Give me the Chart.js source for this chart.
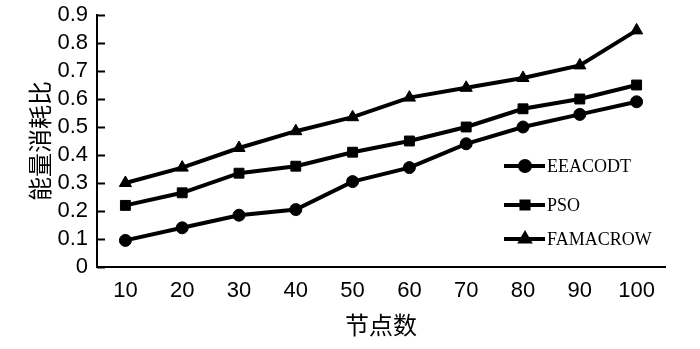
<!DOCTYPE html>
<html>
<head>
<meta charset="utf-8">
<script src="https://cdn.jsdelivr.net/npm/chart.js@4.4.1/dist/chart.umd.min.js"></script>
<style>
    html, body { margin: 0; padding: 0; background: #fff; }
    #wrap { width: 700px; height: 349px; }
</style>
</head>
<body>
<div id="wrap"><canvas id="energyChart" width="700" height="349"></canvas></div>
<script>
// 节点数 (x categories)
const nodeCounts = ['10', '20', '30', '40', '50', '60', '70', '80', '90', '100'];
// y tick labels
const yTickLabels = ['0', '0.1', '0.2', '0.3', '0.4', '0.5', '0.6', '0.7', '0.8', '0.9'];

// 能量消耗比 per algorithm
const eeacodt = [0.095, 0.14, 0.185, 0.205, 0.305, 0.355, 0.44, 0.50, 0.545, 0.59];
const pso = [0.22, 0.265, 0.335, 0.36, 0.41, 0.45, 0.50, 0.565, 0.60, 0.65];
const famacrow = [0.30, 0.355, 0.425, 0.485, 0.535, 0.605, 0.64, 0.675, 0.72, 0.845];

const seriesNames = ['EEACODT', 'PSO', 'FAMACROW'];
const seriesStyles = ['circle', 'rect', 'triangle'];

// legend inside the plot + inward y ticks
const extrasPlugin = {
    id: 'extras',
    afterDraw(chart) {
        const ctx = chart.ctx;
        const y = chart.scales.y;
        ctx.save();
        ctx.strokeStyle = '#000';
        ctx.lineWidth = 2;
        y.ticks.forEach(t => {
            const py = Math.round(y.getPixelForValue(t.value)) + 0.5;
            ctx.beginPath();
            ctx.moveTo(y.right, py);
            ctx.lineTo(y.right + 8, py);
            ctx.stroke();
        });

        const rows = [166, 205, 239];
        chart.data.datasets.forEach((ds, i) => {
            const cy = rows[i];
            ctx.strokeStyle = '#000';
            ctx.lineWidth = 4;
            ctx.beginPath();
            ctx.moveTo(504, cy);
            ctx.lineTo(545, cy);
            ctx.stroke();
            Chart.helpers.drawPoint(ctx, {pointStyle: ds.pointStyle, radius: 5, borderWidth: 1}, 525, cy);
            ctx.fillStyle = '#000';
            ctx.font = '18px "Liberation Serif"';
            ctx.textBaseline = 'middle';
            ctx.textAlign = 'left';
            ctx.fillText(ds.label, 547, cy + 1);
        });
        ctx.restore();
    }
};

const ctx = document.getElementById('energyChart').getContext('2d');
new Chart(ctx, {
    type: 'line',
    data: {
        labels: nodeCounts,
        datasets: [eeacodt, pso, famacrow].map((d, i) => ({
            label: seriesNames[i],
            data: d,
            borderColor: '#000',
            backgroundColor: '#000',
            borderWidth: 4,
            pointStyle: seriesStyles[i],
            pointRadius: seriesStyles[i] === 'circle' ? 6 : 7,
            pointBorderWidth: 1,
            tension: 0
        }))
    },
    options: {
        responsive: false,
        animation: false,
        layout: { padding: { left: 25, right: 35, top: 15, bottom: 10 } },
        plugins: {
            legend: { display: false },
            tooltip: { enabled: false }
        },
        scales: {
            x: {
                offset: true,
                grid: { display: false, drawTicks: false },
                border: { display: true, color: '#000', width: 2 },
                ticks: { color: '#000', padding: 11, maxRotation: 0, autoSkip: false, font: { family: 'Liberation Sans', size: 22 } },
                title: { display: true, text: '节点数', color: '#000', padding: 0, font: { family: 'Noto Sans CJK SC', size: 24 } },
                afterFit: s => { s.height = 349 - 10 - 267; s.paddingLeft = 0; s.paddingRight = 0; }
            },
            y: {
                min: 0,
                max: 0.9,
                grid: { display: false, drawTicks: false },
                border: { display: true, color: '#000', width: 2 },
                ticks: {
                    stepSize: 0.1,
                    autoSkip: false,
                    color: '#000',
                    padding: 9,
                    font: { family: 'Liberation Sans', size: 22 },
                    callback: (v, i) => yTickLabels[i]
                },
                title: { display: true, text: '能量消耗比', color: '#000', padding: 0, font: { family: 'Noto Sans CJK SC', size: 24 } },
                afterFit: s => { s.width = 97 - 25; s.paddingTop = 0; s.paddingBottom = 0; }
            }
        }
    },
    plugins: [extrasPlugin]
});
</script>
</body>
</html>
